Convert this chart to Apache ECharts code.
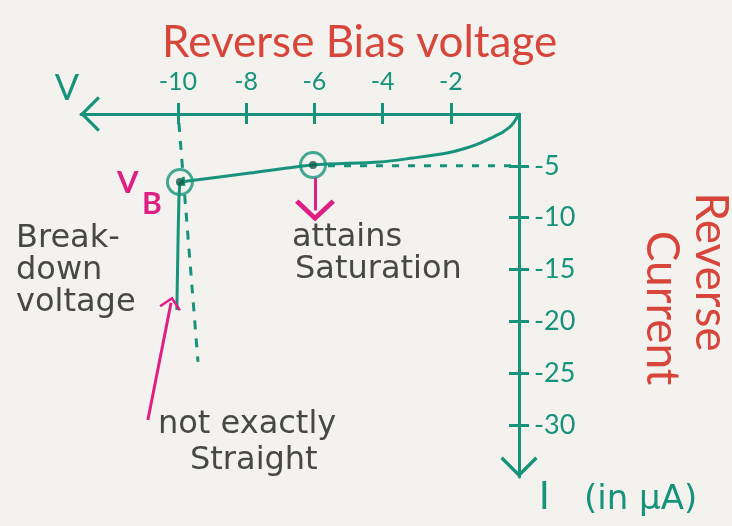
<!DOCTYPE html>
<html>
<head>
<meta charset="utf-8">
<script src="https://cdn.jsdelivr.net/npm/echarts@6/dist/echarts.min.js"></script>
<style>
  html, body { margin: 0; padding: 0; background: #f3f2ee; }
  #chart { width: 732px; height: 526px; }
</style>
</head>
<body>
<div id="chart"></div>
<script>
// Tick values on the two axes
const voltageTicks = [-10, -8, -6, -4, -2];
const currentTicks = [-5, -10, -15, -20, -25, -30];

// Leakage part of the reverse characteristic (V in volts, I in µA)
const leakageV = [0, -0.21, -0.47, -0.76, -1.14, -1.64, -2.11, -3.11, -4.08, -6.04, -7.89, -9.94];
const leakageI = [0, -1.06, -1.74, -2.22, -2.8, -3.38, -3.76, -4.24, -4.63, -4.92, -5.69, -6.56];

// Avalanche part below the breakdown voltage
const avalancheV = [-9.94, -9.97, -10.0, -10.03];
const avalancheI = [-6.56, -8.3, -13.1, -18.9];

// Marked points: saturation and breakdown
const markedV = [-6.04, -9.94];
const markedI = [-4.92, -6.56];

// Dashed guides
const saturationGuideV = [-5.6, 0];
const saturationGuideI = [-5, -5];
const breakdownGuideV = [-9.97, -9.41];
const breakdownGuideI = [-0.87, -23.9];

// Pointer arrows for the notes
const saturationArrowV = [-5.98, -5.98];
const saturationArrowI = [-6.17, -9.3];
const straightArrowV = [-10.88, -10.2];
const straightArrowI = [-29.5, -18.2];

const pair = (xs, ys) => xs.map((x, i) => [x, ys[i]]);

const TEAL = '#16937a';
const RED = '#d8463b';
const PINK = '#dd1f86';
const INK = '#474747';
const FONT = 'Lato, "Noto Sans", sans-serif';
const HAND = '"DejaVu Sans", sans-serif';

// open chevrons pointing "up" in their own frame
const chevron = 'path://M0 14 L14 0 L28 14 L25.6 16.4 L14 4.8 L2.4 16.4 Z';
const thinChevron = 'path://M0 14 L14 0 L28 14 L26.2 15.8 L14 3.6 L1.8 15.8 Z';

const chart = echarts.init(document.getElementById('chart'));

const xBase = { type: 'value', min: -12.84, max: 0, position: 'top', splitLine: { show: false } };
const yBase = { type: 'value', min: -35, max: 0, position: 'right', splitLine: { show: false } };

const noteArrow = (name, xs, ys, size) => ({
  type: 'line', name: name, data: [], symbol: 'none',
  markLine: {
    silent: true, animation: false,
    symbol: ['none', chevron], symbolSize: size,
    label: { show: false },
    lineStyle: { color: PINK, width: 3, type: 'solid' },
    data: [[{ coord: [xs[0], ys[0]] }, { coord: [xs[1], ys[1]] }]]
  }
});

chart.setOption({
  backgroundColor: '#f3f2ee',
  animation: false,
  title: {
    text: 'Reverse Bias voltage',
    left: 157, top: 16,
    textStyle: { fontFamily: FONT, fontSize: 44, fontWeight: 'normal', color: RED }
  },
  grid: { left: 81, right: 213, top: 114, bottom: 49, containLabel: false },
  xAxis: [
    Object.assign({}, xBase, {
      axisLine: { onZero: false, show: true, lineStyle: { color: TEAL, width: 3 },
        symbol: [thinChevron, 'none'], symbolSize: [36, 20], symbolOffset: [9, 0] },
      axisTick: { show: true, length: 11, lineStyle: { color: TEAL, width: 3 }, customValues: voltageTicks },
      axisLabel: { show: true, margin: 20, fontFamily: FONT, fontSize: 25, color: TEAL, customValues: voltageTicks }
    }),
    Object.assign({}, xBase, {
      axisLine: { onZero: false, show: false },
      axisTick: { show: true, inside: true, length: 10, lineStyle: { color: TEAL, width: 3 }, customValues: voltageTicks },
      axisLabel: { show: false }
    })
  ],
  yAxis: [
    Object.assign({}, yBase, {
      axisLine: { onZero: false, show: true, lineStyle: { color: TEAL, width: 3 },
        symbol: [thinChevron, 'none'], symbolSize: [38, 21], symbolOffset: [10, 0] },
      axisTick: { show: true, length: 10, lineStyle: { color: TEAL, width: 3 }, customValues: currentTicks },
      axisLabel: { show: true, margin: 15, fontFamily: FONT, fontSize: 27, color: TEAL, customValues: currentTicks }
    }),
    Object.assign({}, yBase, {
      axisLine: { onZero: false, show: false },
      axisTick: { show: true, inside: true, length: 10, lineStyle: { color: TEAL, width: 3 }, customValues: currentTicks },
      axisLabel: { show: false }
    })
  ],
  series: [
    {
      type: 'line', name: 'leakage', data: pair(leakageV, leakageI),
      smooth: 0.3, symbol: 'none', lineStyle: { color: TEAL, width: 3 }, z: 3
    },
    {
      type: 'line', name: 'avalanche', data: pair(avalancheV, avalancheI),
      smooth: 0.3, symbol: 'none', lineStyle: { color: TEAL, width: 3 }, z: 3
    },
    {
      type: 'line', name: 'saturation guide', data: pair(saturationGuideV, saturationGuideI),
      symbol: 'none', lineStyle: { color: TEAL, width: 3, type: [7, 9] }, z: 2
    },
    {
      type: 'line', name: 'breakdown guide', data: pair(breakdownGuideV, breakdownGuideI),
      symbol: 'none', lineStyle: { color: TEAL, width: 3, type: [9, 9] }, z: 2
    },
    {
      type: 'scatter', name: 'marked rings', data: pair(markedV, markedI),
      symbol: 'circle', symbolSize: 25,
      itemStyle: { color: 'rgba(0,0,0,0)', borderColor: TEAL, borderWidth: 3 }, z: 4
    },
    {
      type: 'scatter', name: 'marked dots', data: pair(markedV, markedI),
      symbol: 'circle', symbolSize: 8, itemStyle: { color: '#0f5c4b' }, z: 5
    },
    noteArrow('saturation note', saturationArrowV, saturationArrowI, [40, 22]),
    noteArrow('straight note', straightArrowV, straightArrowI, [22, 13])
  ],
  graphic: [
    { type: 'text', x: 67, y: 88,
      style: { text: 'V', font: '36px ' + FONT, fill: TEAL, align: 'center', verticalAlign: 'middle' } },
    { type: 'text', x: 539, y: 497,
      style: { text: 'I', font: '38px ' + FONT, fill: TEAL, align: 'left', verticalAlign: 'middle' } },
    { type: 'text', x: 584, y: 500,
      style: { text: '(in µA)', font: '34px ' + HAND, fill: TEAL, align: 'left', verticalAlign: 'middle' } },
    { type: 'text', x: 711, y: 272, rotation: -Math.PI / 2,
      style: { text: 'Reverse', font: '46px ' + FONT, fill: RED, align: 'center', verticalAlign: 'middle' } },
    { type: 'text', x: 662, y: 308, rotation: -Math.PI / 2,
      style: { text: 'Current', font: '46px ' + FONT, fill: RED, align: 'center', verticalAlign: 'middle' } },
    { type: 'text', x: 117, y: 183,
      style: { text: 'V', font: 'bold 31px ' + FONT, fill: PINK, align: 'left', verticalAlign: 'middle' } },
    { type: 'text', x: 142, y: 204,
      style: { text: 'B', font: 'bold 30px ' + FONT, fill: PINK, align: 'left', verticalAlign: 'middle' } },
    { type: 'text', x: 16, y: 223,
      style: { text: 'Break-\ndown\nvoltage', font: '32px ' + HAND, lineHeight: 32, fill: INK, align: 'left', verticalAlign: 'top' } },
    { type: 'text', x: 292, y: 238,
      style: { text: 'attains', font: '32px ' + HAND, fill: INK, align: 'left', verticalAlign: 'middle' } },
    { type: 'text', x: 295, y: 270,
      style: { text: 'Saturation', font: '32px ' + HAND, fill: INK, align: 'left', verticalAlign: 'middle' } },
    { type: 'text', x: 158, y: 425,
      style: { text: 'not exactly', font: '32px ' + HAND, fill: INK, align: 'left', verticalAlign: 'middle' } },
    { type: 'text', x: 190, y: 461,
      style: { text: 'Straight', font: '32px ' + HAND, fill: INK, align: 'left', verticalAlign: 'middle' } }
  ]
});
</script>
</body>
</html>
